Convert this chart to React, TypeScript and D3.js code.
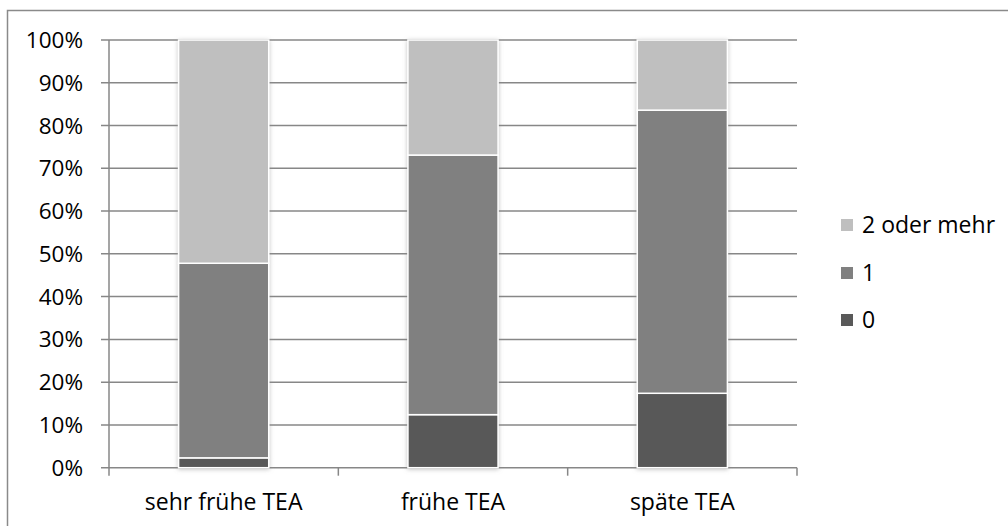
import React from "react";
import * as d3 from "d3";

// Share of respondents per TEA phase, in percent
const categories = ["sehr frühe TEA", "frühe TEA", "späte TEA"];
const seriesNames = ["0", "1", "2 oder mehr"];
const values0 = [2.3, 12.4, 17.4];
const values1 = [45.5, 60.7, 66.2];
const values2 = [52.2, 26.9, 16.4];
const yTicks = [0, 10, 20, 30, 40, 50, 60, 70, 80, 90, 100];
const colors = ["#595959", "#808080", "#bfbfbf"];

const W = 1008;
const H = 526;
const FONT = "'Open Sans', sans-serif";

export default function App() {
  const left = 109;
  const right = 797;
  const top = 40;
  const bottom = 467.7;

  const x = d3.scaleBand<string>().domain(categories).range([left, right]).paddingInner(0.607).paddingOuter(0.3035);
  const y = d3.scaleLinear().domain([0, 100]).range([bottom, top]);

  const rows = categories.map((c, i) => ({ cat: c, s0: values0[i], s1: values1[i], s2: values2[i] }));
  const stacked = d3.stack<any>().keys(["s0", "s1", "s2"])(rows);

  const outer = d3.scaleBand<string>().domain(categories).range([left, right]);
  const catTicks = [left, ...categories.map((c) => (outer(c) as number) + outer.bandwidth())];

  const legendOrder = [2, 1, 0];
  const legendY = [225, 273, 320];

  return (
    <svg
      width={W}
      height={H}
      style={{ position: "absolute", left: 0, top: 0, background: "#fff" }}
      fontFamily={FONT}
    >
      <defs>
        <filter id="barShadow" x="-20%" y="-5%" width="140%" height="110%">
          <feDropShadow dx="0" dy="1" stdDeviation="2.2" floodColor="#8c8c8c" floodOpacity="0.55" />
        </filter>
      </defs>
      <rect x={0} y={0} width={W} height={H} fill="#fff" />
      {/* chart frame */}
      <rect x={7.5} y={10.5} width={W + 20} height={H + 20} fill="none" stroke="#8a8a8a" strokeWidth={1.5} />

      {/* gridlines with tick stubs */}
      {yTicks.map((t) => (
        <line key={t} x1={101} x2={right} y1={y(t)} y2={y(t)} stroke="#878787" strokeWidth={1.5} />
      ))}
      {/* value axis */}
      <line x1={left} x2={left} y1={top} y2={bottom} stroke="#878787" strokeWidth={1.5} />
      {/* category axis ticks */}
      {catTicks.map((cx, i) => (
        <line key={i} x1={cx} x2={cx} y1={bottom} y2={bottom + 8} stroke="#878787" strokeWidth={1.5} />
      ))}

      {/* stacked bars */}
      <g filter="url(#barShadow)">
        {stacked.map((layer, li) =>
          layer.map((d, i) => (
            <rect
              key={`${li}-${i}`}
              x={x(categories[i])}
              width={x.bandwidth()}
              y={y(d[1])}
              height={y(d[0]) - y(d[1])}
              fill={colors[li]}
              stroke="#fff"
              strokeWidth={1.5}
            />
          ))
        )}
      </g>

      {/* value labels */}
      {yTicks.map((t) => (
        <text key={t} x={83} y={y(t)} dy="0.36em" textAnchor="end" fontSize={22.5} fill="#000">
          {`${t}%`}
        </text>
      ))}
      {/* category labels */}
      {categories.map((c) => (
        <text key={c} x={(x(c) as number) + x.bandwidth() / 2} y={510} textAnchor="middle" fontSize={23} fill="#000">
          {c}
        </text>
      ))}

      {/* legend */}
      {legendOrder.map((si, k) => (
        <g key={si}>
          <rect x={841} y={legendY[k] - 6} width={12} height={12} fill={colors[si]} />
          <text x={862} y={legendY[k]} dy="0.36em" fontSize={23} fill="#000">
            {seriesNames[si]}
          </text>
        </g>
      ))}
    </svg>
  );
}
